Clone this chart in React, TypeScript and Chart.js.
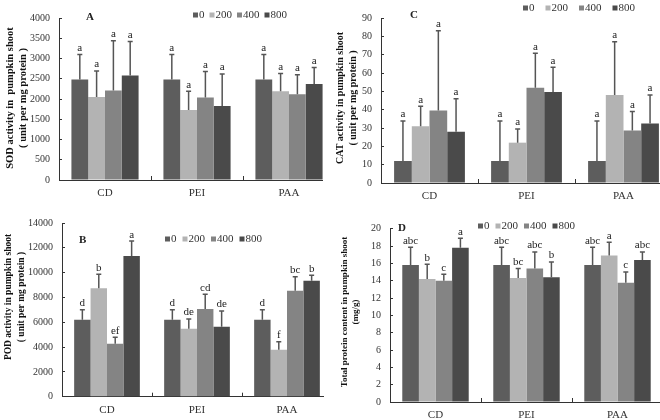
import React, { useEffect, useRef } from "react";
import { Chart, registerables } from "chart.js";

Chart.register(...registerables);

const CATEGORIES = ["CD", "PEI", "PAA"];
const SERIES = ["0", "200", "400", "800"];
const COLORS = ["#5d5d5d", "#b3b3b3", "#848484", "#4a4a4a"];

// A: SOD activity (mean per series, rows = series 0/200/400/800, cols = CD/PEI/PAA)
const SOD_MEAN = [
  [2480, 2480, 2480],
  [2050, 1730, 2190],
  [2210, 2040, 2120],
  [2580, 1830, 2370],
];
const SOD_ERR = [
  [620, 620, 620],
  [640, 460, 440],
  [1230, 640, 480],
  [840, 790, 410],
];
const SOD_LETTERS = [
  ["a", "a", "a"],
  ["a", "a", "a"],
  ["a", "a", "a"],
  ["a", "a", "a"],
];

// B: POD activity
const POD_MEAN = [
  [6200, 6200, 6200],
  [8750, 5480, 3780],
  [4260, 7060, 8540],
  [11350, 5640, 9340],
];
const POD_ERR = [
  [810, 810, 810],
  [1120, 790, 640],
  [530, 1200, 1120],
  [1190, 1270, 450],
];
const POD_LETTERS = [
  ["d", "d", "d"],
  ["b", "de", "f"],
  ["ef", "cd", "bc"],
  ["a", "de", "b"],
];

// C: CAT activity
const CAT_MEAN = [
  [12, 12, 12],
  [31, 22, 48],
  [39.6, 52, 28.6],
  [28, 49.7, 32.4],
];
const CAT_ERR = [
  [21.8, 21.8, 21.8],
  [10.9, 7.5, 29],
  [43.4, 18.8, 10.4],
  [18, 13.5, 15.6],
];
const CAT_LETTERS = [
  ["a", "a", "a"],
  ["a", "a", "a"],
  ["a", "a", "a"],
  ["a", "a", "a"],
];

// D: total protein content
const PROT_MEAN = [
  [15.8, 15.8, 15.8],
  [14.2, 14.3, 16.9],
  [14.0, 15.4, 13.75],
  [17.8, 14.4, 16.4],
];
const PROT_ERR = [
  [2.05, 2.05, 2.05],
  [1.7, 1.1, 1.55],
  [0.75, 1.9, 1.25],
  [1.1, 1.75, 0.9],
];
const PROT_LETTERS = [
  ["abc", "abc", "abc"],
  ["b", "bc", "a"],
  ["c", "abc", "c"],
  ["a", "b", "abc"],
];

const SOD_TITLE = ["SOD activity in  pumpkin shoot", "( unit per mg protein )"];
const POD_TITLE = ["POD activity in pumpkin shoot", "( unit per mg protein )"];
const CAT_TITLE = ["CAT activity in pumpkin shoot", "( unit per mg protein )"];
const PROT_TITLE = ["Total protein content in pumpkin shoot", "(mg/g)"];

const SERIF = "'Liberation Serif', 'Times New Roman', serif";

type PanelSpec = {
  left: number;
  top: number;
  clipW: number;
  w: number;
  h: number;
  area: { l: number; t: number; r: number; b: number };
  yMax: number;
  yStep: number;
  title: string[];
  titleSize: number;
  titleX: [number, number];
  titleY: number;
  means: number[][];
  errs: number[][];
  letters: string[][];
  panel: string;
  panelPos: [number, number];
  legendPos: [number, number];
  legendGap: number;
};

function makeExtras(spec: PanelSpec) {
  return {
    id: "extras" + spec.panel,
    afterDatasetsDraw(chart: any) {
      const ctx = chart.ctx as CanvasRenderingContext2D;
      const ys = chart.scales.y;
      ctx.save();
      chart.data.datasets.forEach((ds: any, i: number) => {
        const meta = chart.getDatasetMeta(i);
        meta.data.forEach((bar: any, j: number) => {
          const top = ys.getPixelForValue(ds.data[j] + spec.errs[i][j]);
          ctx.strokeStyle = "#555555";
          ctx.lineWidth = 1.5;
          ctx.beginPath();
          ctx.moveTo(bar.x, bar.y);
          ctx.lineTo(bar.x, top);
          ctx.moveTo(bar.x - 2.5, top);
          ctx.lineTo(bar.x + 2.5, top);
          ctx.stroke();
          ctx.fillStyle = "#222222";
          ctx.font = `11px ${SERIF}`;
          ctx.textAlign = "center";
          ctx.textBaseline = "bottom";
          ctx.fillText(spec.letters[i][j], bar.x, top - 1);
        });
      });
      // panel letter
      ctx.font = `bold 11px ${SERIF}`;
      ctx.fillStyle = "#222222";
      ctx.textAlign = "left";
      ctx.textBaseline = "middle";
      ctx.fillText(spec.panel, spec.panelPos[0], spec.panelPos[1]);
      // legend
      let x = spec.legendPos[0];
      const ly = spec.legendPos[1];
      ctx.font = `11px ${SERIF}`;
      chart.data.datasets.forEach((ds: any) => {
        ctx.fillStyle = ds.backgroundColor;
        ctx.fillRect(x, ly - 2.5, 5, 5);
        ctx.fillStyle = "#333333";
        ctx.fillText(ds.label, x + 6, ly + 0.5);
        x += 6 + ctx.measureText(ds.label).width + spec.legendGap;
      });
      // y-axis title (rotated, two lines)
      ctx.font = `bold ${spec.titleSize}px ${SERIF}`;
      ctx.fillStyle = "#111111";
      ctx.textAlign = "center";
      ctx.textBaseline = "middle";
      spec.title.forEach((line, k) => {
        ctx.save();
        ctx.translate(spec.titleX[k], spec.titleY);
        ctx.rotate(-Math.PI / 2);
        ctx.fillText(line, 0, 0);
        ctx.restore();
      });
      ctx.restore();
    },
  };
}

function Panel({ spec }: { spec: PanelSpec }) {
  const ref = useRef<HTMLCanvasElement>(null);
  useEffect(() => {
    if (!ref.current) return;
    const { area, w, h } = spec;
    const chart = new Chart(ref.current, {
      type: "bar",
      data: {
        labels: CATEGORIES,
        datasets: SERIES.map((s, i) => ({
          label: s,
          data: spec.means[i],
          backgroundColor: COLORS[i],
          borderWidth: 0,
          categoryPercentage: 0.73,
          barPercentage: 1.0,
        })),
      },
      options: {
        responsive: false,
        animation: false,
        events: [],
        layout: {
          autoPadding: false,
          padding: { left: 0, top: area.t, right: w - area.r, bottom: 0 },
        },
        plugins: {
          legend: { display: false },
          title: { display: false },
          tooltip: { enabled: false },
        },
        scales: {
          x: {
            grid: {
              drawOnChartArea: false,
              tickLength: -4,
              color: "#333333",
              offset: true,
            },
            border: { color: "#333333", width: 1 },
            ticks: {
              padding: 11,
              color: "#333333",
              font: { family: SERIF, size: 11 },
            },
            afterFit: (s: any) => {
              s.height = h - area.b;
            },
          },
          y: {
            min: 0,
            max: spec.yMax,
            grid: {
              drawOnChartArea: false,
              tickLength: -3,
              color: "#333333",
            },
            border: { color: "#333333", width: 1 },
            ticks: {
              stepSize: spec.yStep,
              padding: 12,
              color: "#333333",
              font: { family: SERIF, size: 10 },
              callback: (v: any) => String(v),
            },
            afterFit: (s: any) => {
              s.width = area.l;
            },
          },
        },
      },
      plugins: [makeExtras(spec)],
    } as any);
    return () => chart.destroy();
  }, [spec]);
  return (
    <div
      style={{
        position: "absolute",
        left: spec.left,
        top: spec.top,
        width: spec.clipW,
        height: spec.h,
        overflow: "hidden",
      }}
    >
      <canvas
        ref={ref}
        width={spec.w}
        height={spec.h}
        style={{ width: spec.w, height: spec.h, display: "block" }}
      />
    </div>
  );
}

const PANELS: PanelSpec[] = [
  {
    left: 0, top: 0, clipW: 323, w: 345, h: 205,
    area: { l: 59, t: 10, r: 335, b: 180 },
    yMax: 4000, yStep: 500,
    title: SOD_TITLE, titleSize: 10.5, titleX: [10, 23], titleY: 98,
    means: SOD_MEAN, errs: SOD_ERR, letters: SOD_LETTERS,
    panel: "A", panelPos: [86, 17], legendPos: [193, 15], legendGap: 5,
  },
  {
    left: 0, top: 205, clipW: 324, w: 345, h: 215,
    area: { l: 62, t: 15.3, r: 332, b: 191.7 },
    yMax: 14000, yStep: 2000,
    title: POD_TITLE, titleSize: 9.5, titleX: [9, 22], titleY: 92,
    means: POD_MEAN, errs: POD_ERR, letters: POD_LETTERS,
    panel: "B", panelPos: [79, 35], legendPos: [165, 34], legendGap: 6,
  },
  {
    left: 330, top: 0, clipW: 330, w: 345, h: 205,
    area: { l: 51, t: 6, r: 342, b: 183 },
    yMax: 90, yStep: 10,
    title: CAT_TITLE, titleSize: 10, titleX: [10, 23], titleY: 98,
    means: CAT_MEAN, errs: CAT_ERR, letters: CAT_LETTERS,
    panel: "C", panelPos: [80, 15], legendPos: [193, 8], legendGap: 11,
  },
  {
    left: 330, top: 205, clipW: 330, w: 340, h: 215,
    area: { l: 60, t: 23.7, r: 333, b: 199 },
    yMax: 20, yStep: 2,
    title: PROT_TITLE, titleSize: 9, titleX: [15, 26], titleY: 107,
    means: PROT_MEAN, errs: PROT_ERR, letters: PROT_LETTERS,
    panel: "D", panelPos: [68, 23], legendPos: [148, 21], legendGap: 6,
  },
];

export default function App() {
  return (
    <div
      style={{
        position: "absolute",
        left: 0,
        top: 0,
        width: 660,
        height: 420,
        overflow: "hidden",
        background: "#ffffff",
      }}
    >
      {PANELS.map((p) => (
        <Panel key={p.panel} spec={p} />
      ))}
    </div>
  );
}
